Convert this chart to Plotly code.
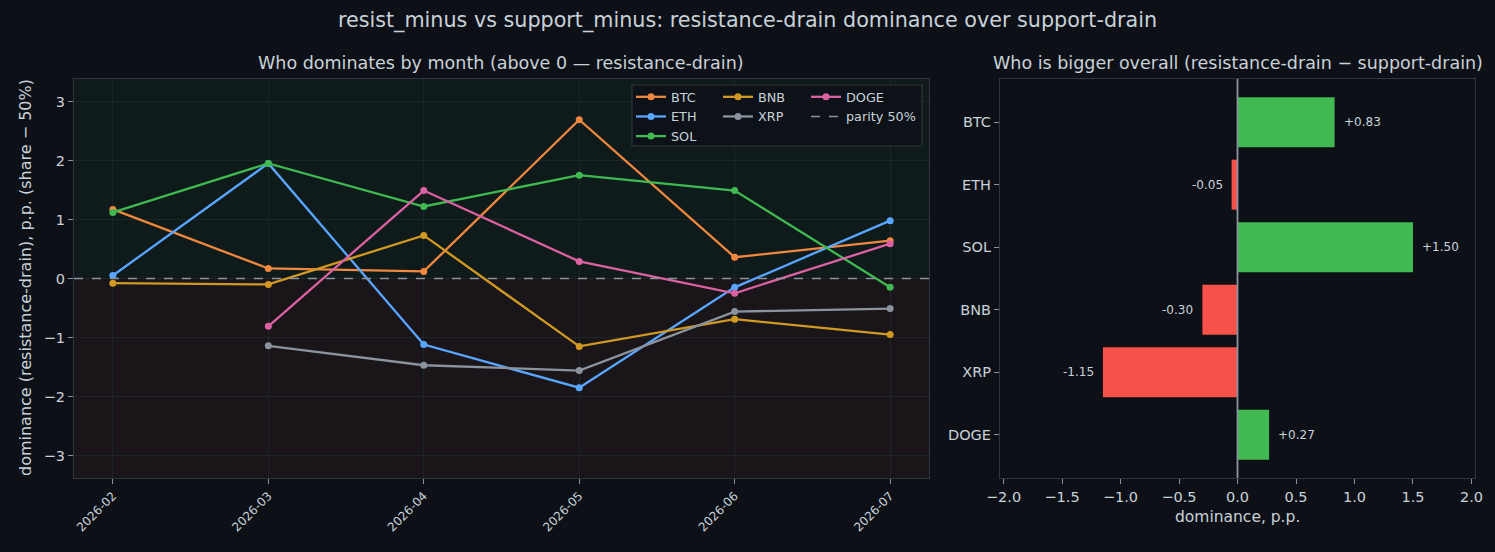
import plotly.graph_objects as go

months = ["2026-02", "2026-03", "2026-04", "2026-05", "2026-06", "2026-07"]
btc = [1.17, 0.17, 0.12, 2.69, 0.36, 0.64]
eth = [0.05, 1.95, -1.12, -1.85, -0.15, 0.98]
sol = [1.12, 1.95, 1.22, 1.75, 1.49, -0.15]
bnb = [-0.08, -0.10, 0.73, -1.15, -0.69, -0.95]
xrp = [None, -1.14, -1.47, -1.56, -0.56, -0.51]
doge = [None, -0.81, 1.49, 0.29, -0.25, 0.59]

coins = ["BTC", "ETH", "SOL", "BNB", "XRP", "DOGE"]
overall = [0.83, -0.05, 1.50, -0.30, -1.15, 0.27]
overall_labels = ["+0.83", "-0.05", "+1.50", "-0.30", "-1.15", "+0.27"]

BG = "#0d1117"
TXT = "#c9d1d9"
SPINE = "#30363d"
FONT = "DejaVu Sans"

series = [
    ("BTC", btc, "#f0883e", "legend"),
    ("ETH", eth, "#58a6ff", "legend"),
    ("SOL", sol, "#3fb950", "legend"),
    ("BNB", bnb, "#d29922", "legend2"),
    ("XRP", xrp, "#8b949e", "legend2"),
    ("DOGE", doge, "#db61a2", "legend3"),
]

fig = go.Figure()

for name, vals, col, lg in series:
    fig.add_trace(go.Scatter(
        x=months, y=vals, name=name, mode="lines+markers",
        line=dict(color=col, width=2.3), marker=dict(color=col, size=7),
        xaxis="x", yaxis="y", legend=lg, connectgaps=False,
    ))

# parity legend entry
fig.add_trace(go.Scatter(
    x=[None], y=[None], name="parity 50%", mode="lines",
    line=dict(color="#8b949e", width=1.5, dash="dash"),
    xaxis="x", yaxis="y", legend="legend3",
))

bar_colors = ["#3fb950" if v >= 0 else "#f85149" for v in overall]
fig.add_trace(go.Bar(
    x=overall, y=coins, orientation="h", marker=dict(color=bar_colors, line=dict(width=0)),
    width=0.8, xaxis="x2", yaxis="y2", showlegend=False,
))

for c, v, lab in zip(coins, overall, overall_labels):
    fig.add_annotation(
        x=v, y=c, xref="x2", yref="y2", text=lab, showarrow=False,
        xanchor="left" if v >= 0 else "right", xshift=7 if v >= 0 else -7,
        font=dict(family=FONT, size=12, color=TXT),
    )

# background spans on left plot
fig.add_shape(type="rect", xref="x domain", yref="y", x0=0, x1=1, y0=0, y1=10,
              fillcolor="#0f1a1b", line=dict(width=0), layer="below")
fig.add_shape(type="rect", xref="x domain", yref="y", x0=0, x1=1, y0=-10, y1=0,
              fillcolor="#1a1519", line=dict(width=0), layer="below")
# parity line
fig.add_shape(type="line", xref="x domain", yref="y", x0=0, x1=1, y0=0, y1=0,
              line=dict(color="#8b949e", width=1.5, dash="dash"), layer="above")
# zero line right
fig.add_shape(type="line", xref="x2", yref="y2 domain", x0=0, x1=0, y0=0, y1=1,
              line=dict(color="#8b949e", width=1.8), layer="above")
# legend box
W, H = 1495, 552
fig.add_shape(type="rect", xref="paper", yref="paper",
              x0=632 / W, x1=922 / W, y0=1 - 146 / H, y1=1 - 85 / H,
              fillcolor="rgba(13,17,23,0.85)", line=dict(color=SPINE, width=1.2), layer="above")

base = dict(showline=True, linecolor=SPINE, linewidth=1.2, mirror=True,
            ticks="outside", ticklen=5, tickcolor="#8b949e", zeroline=False, automargin=False)

leg_common = dict(bgcolor="rgba(0,0,0,0)", borderwidth=0, yanchor="top", xanchor="left",
                  font=dict(family=FONT, size=12.8, color=TXT), tracegroupgap=0)

fig.update_layout(
    width=W, height=H,
    paper_bgcolor=BG, plot_bgcolor=BG,
    margin=dict(l=0, r=0, t=0, b=0),
    font=dict(family=FONT, color=TXT),
    title=dict(text="resist_minus vs support_minus: resistance-drain dominance over support-drain",
               x=0.5, xanchor="center", y=1 - 20 / H, yanchor="middle",
               font=dict(family=FONT, size=20.7, color=TXT)),
    xaxis=dict(domain=[74 / W, 929 / W], type="category", categoryorder="array",
               categoryarray=months, range=[-0.25, 5.25], anchor="y",
               showgrid=True, gridcolor="#1c2527", gridwidth=1, tickangle=-45,
               tickfont=dict(family=FONT, size=12, color=TXT), **base),
    yaxis=dict(domain=[1 - 478 / H, 1 - 79 / H], range=[-3.38, 3.38], dtick=1, anchor="x",
               showgrid=True, gridcolor="#1c2527", gridwidth=1,
               tickfont=dict(family=FONT, size=14.5, color=TXT), **base),
    xaxis2=dict(domain=[1000 / W, 1475 / W], range=[-2.03, 2.03], dtick=0.5, tickformat=".1f",
                anchor="y2", showgrid=False,
                tickfont=dict(family=FONT, size=14.5, color=TXT), **base),
    yaxis2=dict(domain=[1 - 478 / H, 1 - 79 / H], type="category", categoryorder="array",
                categoryarray=coins, range=[5.69, -0.69], anchor="x2", showgrid=False,
                tickfont=dict(family=FONT, size=14.5, color=TXT), **base),
    legend=dict(x=631 / W, y=1 - 82 / H, **leg_common),
    legend2=dict(x=718 / W, y=1 - 82 / H, **leg_common),
    legend3=dict(x=806 / W, y=1 - 82 / H, **leg_common),
    showlegend=True,
    bargap=0.2,
)

fig.add_annotation(text="Who dominates by month (above 0 — resistance-drain)",
                   xref="paper", yref="paper", x=(74 + 929) / 2 / W, y=1 - 63 / H,
                   xanchor="center", yanchor="middle", showarrow=False,
                   font=dict(family=FONT, size=17.5, color=TXT))
fig.add_annotation(text="Who is bigger overall (resistance-drain − support-drain)",
                   xref="paper", yref="paper", x=(1000 + 1475) / 2 / W, y=1 - 63 / H,
                   xanchor="center", yanchor="middle", showarrow=False,
                   font=dict(family=FONT, size=17.5, color=TXT))
# axis titles
fig.add_annotation(text="dominance (resistance-drain), p.p. (share − 50%)",
                   xref="paper", yref="paper", x=25 / W, y=1 - 278 / H, textangle=-90,
                   xanchor="center", yanchor="middle", showarrow=False,
                   font=dict(family=FONT, size=16, color=TXT))
fig.add_annotation(text="dominance, p.p.",
                   xref="paper", yref="paper", x=(1000 + 1475) / 2 / W, y=1 - 517 / H,
                   xanchor="center", yanchor="middle", showarrow=False,
                   font=dict(family=FONT, size=15.5, color=TXT))

fig.write_html("out.html")
